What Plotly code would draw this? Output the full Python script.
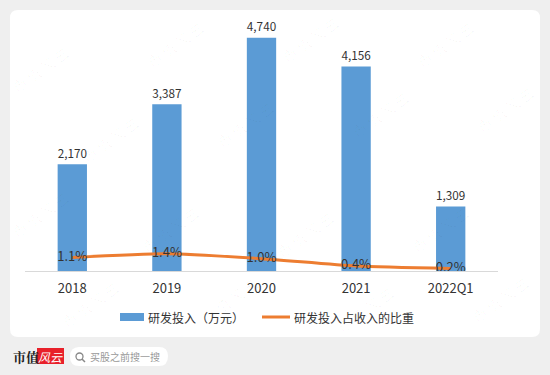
import plotly.graph_objects as go

categories = ["2018", "2019", "2020", "2021", "2022Q1"]
rd_spend = [2170, 3387, 4740, 4156, 1309]          # 研发投入（万元）
rd_ratio = [0.011, 0.014, 0.010, 0.004, 0.002]     # 研发投入占收入的比重
rd_ratio_labels = ["1.1%", "1.4%", "1.0%", "0.4%", "0.2%"]
series_names = ["研发投入（万元）", "研发投入占收入的比重"]

W, H = 550, 375
FONT = "Noto Sans CJK SC"
BLUE, ORANGE = "#5b9bd5", "#ed7d31"

def px(x):
    return x / W

def py(y):
    return 1 - y / H

fig = go.Figure()

fig.add_trace(go.Bar(
    x=categories, y=rd_spend, name=series_names[0],
    marker=dict(color=BLUE, line=dict(width=0)),
    width=0.31,
    text=[f"{v:,}" for v in rd_spend], textposition="outside",
    textfont=dict(size=13, color="#333333", family=FONT),
    cliponaxis=False, showlegend=False,
))
fig.add_trace(go.Scatter(
    x=categories, y=rd_ratio, name=series_names[1], yaxis="y2",
    mode="lines+text", line=dict(color=ORANGE, width=3, shape="spline", smoothing=0.6),
    text=rd_ratio_labels, textposition="middle center",
    textfont=dict(size=13, color="#333333", family=FONT),
    cliponaxis=False, showlegend=False,
))

shapes = []
# outer card (rounded white)
x0, x1, y0, y1, r = px(10), px(540), py(10), py(337), 8
rx, ry = r / W, r / H
path = (f"M {x0+rx},{y0} L {x1-rx},{y0} Q {x1},{y0} {x1},{y0-ry} "
        f"L {x1},{y1+ry} Q {x1},{y1} {x1-rx},{y1} L {x0+rx},{y1} "
        f"Q {x0},{y1} {x0},{y1+ry} L {x0},{y0-ry} Q {x0},{y0} {x0+rx},{y0} Z")
shapes.append(dict(type="path", xref="paper", yref="paper", path=path,
                   fillcolor="white", line=dict(width=0), layer="below"))
# search pill
sx0, sx1, sy0, sy1 = px(70), px(168), py(347), py(366)
sr = 9
srx, sry = sr / W, sr / H
spath = (f"M {sx0+srx},{sy0} L {sx1-srx},{sy0} Q {sx1},{sy0} {sx1},{sy0-sry} "
         f"Q {sx1},{sy1} {sx1-srx},{sy1} L {sx0+srx},{sy1} "
         f"Q {sx0},{sy1} {sx0},{sy1+sry} Q {sx0},{sy0} {sx0+srx},{sy0} Z")
shapes.append(dict(type="path", xref="paper", yref="paper", path=spath,
                   fillcolor="white", line=dict(width=0), layer="below"))
# magnifier icon
shapes.append(dict(type="circle", xref="paper", yref="paper",
                   x0=px(76), x1=px(83), y0=py(360), y1=py(353),
                   line=dict(color="#888888", width=1.3)))
shapes.append(dict(type="line", xref="paper", yref="paper",
                   x0=px(82), x1=px(85), y0=py(359), y1=py(362),
                   line=dict(color="#888888", width=1.5)))
# red logo box
shapes.append(dict(type="rect", xref="paper", yref="paper",
                   x0=px(37), x1=px(64), y0=py(364), y1=py(348),
                   fillcolor="#e8202a", line=dict(width=0)))
# legend keys
shapes.append(dict(type="rect", xref="paper", yref="paper",
                   x0=px(120), x1=px(144), y0=py(321), y1=py(313),
                   fillcolor=BLUE, line=dict(width=0)))
shapes.append(dict(type="line", xref="paper", yref="paper",
                   x0=px(262), x1=px(290), y0=py(317), y1=py(317),
                   line=dict(color=ORANGE, width=3)))

annotations = []

def note(x, y, text, size, color, xanchor="center", family=FONT, angle=0):
    annotations.append(dict(x=px(x), y=py(y), xref="paper", yref="paper",
                            xanchor=xanchor, yanchor="middle", text=text,
                            showarrow=False, textangle=angle,
                            font=dict(size=size, color=color, family=family)))

# watermarks
wm_pos = [(40, 70), (175, 45), (310, 40), (445, 45), (110, 140), (245, 125), (380, 115), (505, 110),
          (40, 215), (170, 230), (305, 235), (440, 230), (90, 305), (230, 300), (365, 310), (500, 300)]
for (wx, wy) in wm_pos:
    note(wx, wy, "市 值 风 云", 14, "rgba(0,0,0,0.03)", angle=-35)
# legend labels
note(146, 317, series_names[0], 12, "#333333", xanchor="left")
note(292, 317, series_names[1], 12, "#333333", xanchor="left")
# footer
note(11, 356, "<b>市值</b>", 13, "#222222", xanchor="left", family="Noto Serif CJK SC, " + FONT)
note(50.5, 356, "<i>风云</i>", 12, "white")
note(88, 356.5, "买股之前搜一搜", 10, "#999999", xanchor="left")

fig.update_layout(
    width=W, height=H,
    margin=dict(l=0, r=0, t=0, b=0),
    paper_bgcolor="#efefef", plot_bgcolor="rgba(0,0,0,0)",
    font=dict(family=FONT, color="#333333"),
    xaxis=dict(domain=[px(25), px(498)], showgrid=False, zeroline=False,
               showline=True, linecolor="#d9d9d9", linewidth=1, ticks="",
               tickfont=dict(size=13, color="#333333"), ticklabelstandoff=5),
    yaxis=dict(domain=[py(271), py(25)], range=[0, 5000], visible=False, showgrid=False),
    yaxis2=dict(overlaying="y", range=[0, 0.2], visible=False, showgrid=False),
    showlegend=False,
    shapes=shapes,
    annotations=annotations,
)

fig.write_html("out.html", config={"displayModeBar": False},
               post_script="document.body.style.margin='0';document.body.style.background='#efefef';")
